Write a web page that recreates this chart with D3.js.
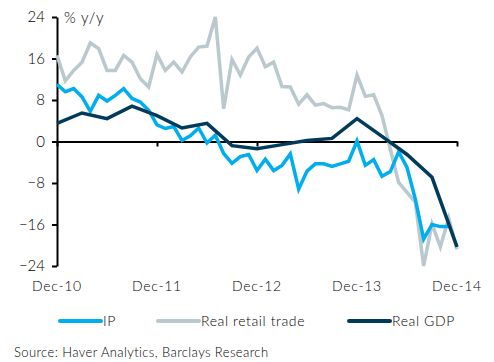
<!DOCTYPE html>
<html>
<head>
<meta charset="utf-8">
<script src="https://cdn.jsdelivr.net/npm/d3@7"></script>
<style>
  body { margin: 0; background: #fff; }
  svg { display: block; font-family: Lato, "Open Sans", sans-serif; font-weight: 300; }
</style>
</head>
<body>
<svg width="494" height="362"></svg>
<script>
// months counted from Dec-10 (0) to Dec-14 (48)
const xTickMonths = [0, 12, 24, 36, 48];
const xTickLabels = ["Dec-10", "Dec-11", "Dec-12", "Dec-13", "Dec-14"];
const yTicks = [24, 16, 8, 0, -8, -16, -24];

// IP, monthly, Dec-10 .. Nov-14
const ip = [11.0, 9.6, 10.2, 8.6, 5.8, 8.9, 7.8, 8.9, 10.2, 8.3, 7.6, 6.0,
  3.2, 2.5, 2.9, 0.2, 1.1, 2.6, -0.3, 1.2, -2.3, -4.2, -2.9, -2.5,
  -5.6, -3.4, -5.6, -4.6, -2.4, -9.2, -5.7, -4.3, -4.3, -4.8, -4.3, -3.8,
  0.1, -4.6, -3.5, -6.7, -5.8, -2.0, -5.0, -11.1, -18.8, -16.0, -16.4, -16.4];

// Real retail trade, monthly, Dec-10 .. Dec-14
const retail = [16.6, 11.7, 13.7, 15.3, 19.0, 17.9, 13.7, 13.7, 16.6, 15.3, 12.1, 10.5,
  16.8, 13.7, 15.3, 13.4, 16.3, 18.2, 18.4, 24.0, 6.3, 15.8, 12.8, 16.3,
  18.0, 14.4, 15.3, 10.6, 10.5, 7.2, 9.0, 7.0, 7.3, 6.5, 6.6, 6.1,
  12.8, 8.7, 9.0, 5.0, -1.5, -7.9, -9.8, -11.7, -24.0, -15.9, -20.3, -14.8, -20.8];

// Real GDP, quarterly
const gdpMonths = [0, 3, 6, 9, 12, 15, 18, 21, 24, 27, 30, 33, 36, 39, 42, 45, 48];
const gdp = [3.5, 5.5, 4.4, 6.8, 5.0, 2.6, 3.5, -0.8, -1.4, -0.6, 0.2, 0.6, 4.4, 1.0, -2.5, -6.9, -20.3];

const seriesNames = ["IP", "Real retail trade", "Real GDP"];
const seriesColors = ["#00aeef", "#b9c9ce", "#003b5c"];

const svg = d3.select("svg");
const x = d3.scaleLinear().domain([0, 48]).range([57, 457]);
const y = d3.scaleLinear().domain([-24, 24]).range([266, 17]);

// y axis
const yAxis = svg.append("g")
  .attr("transform", `translate(${x(0)},0)`)
  .call(d3.axisLeft(y).tickValues(yTicks).tickSize(5).tickSizeOuter(0).tickPadding(7));
yAxis.select(".domain").attr("stroke", "#000").attr("stroke-width", 2);
yAxis.selectAll(".tick line").attr("stroke", "#000").attr("stroke-width", 2);
yAxis.selectAll(".tick text")
  .attr("font-size", 15).attr("fill", "#000")
  .style("font-family", "Lato, sans-serif")
  .style("font-weight", 300);

// x axis at zero
const xAxis = svg.append("g")
  .attr("transform", `translate(0,${y(0)})`)
  .call(d3.axisBottom(x).tickValues(xTickMonths).tickSize(5).tickSizeOuter(0).tickFormat(""));
xAxis.select(".domain").attr("stroke", "#000").attr("stroke-width", 2);
xAxis.selectAll(".tick line").attr("stroke", "#000").attr("stroke-width", 2);

// x labels at the bottom
svg.append("g").selectAll("text")
  .data(xTickMonths)
  .join("text")
  .attr("x", d => x(d))
  .attr("y", 291)
  .attr("text-anchor", "middle")
  .attr("font-size", 14)
  .attr("letter-spacing", 0.7)
  .text((d, i) => xTickLabels[i]);

svg.append("text")
  .attr("x", 64).attr("y", 23)
  .attr("font-size", 15)
  .attr("letter-spacing", 0.8)
  .text("% y/y");

const line = d3.line().x(d => x(d[0])).y(d => y(d[1]));
const data = [
  ip.map((v, i) => [i, v]),
  retail.map((v, i) => [i, v]),
  gdp.map((v, i) => [gdpMonths[i], v])
];

// drawing order: retail at back, IP, GDP on top
[1, 0, 2].forEach(k => {
  svg.append("path")
    .datum(data[k])
    .attr("d", line)
    .attr("fill", "none")
    .attr("stroke", seriesColors[k])
    .attr("stroke-width", 3.5)
    .attr("stroke-linejoin", "miter");
});

// legend
const legendX = [60, 158, 349];
const leg = svg.append("g").selectAll("g")
  .data(seriesNames)
  .join("g")
  .attr("transform", (d, i) => `translate(${legendX[i]},321)`);
leg.append("line")
  .attr("x1", 0).attr("x2", 41)
  .attr("stroke", (d, i) => seriesColors[i])
  .attr("stroke-width", 4)
  .attr("stroke-linecap", "round");
leg.append("text")
  .attr("x", 43).attr("y", 5)
  .attr("font-size", 14)
  .attr("letter-spacing", 0.6)
  .text(d => d);

svg.append("text")
  .attr("x", 14).attr("y", 357)
  .attr("font-size", 13)
  .attr("letter-spacing", 0.4)
  .text("Source: Haver Analytics, Barclays Research");
</script>
</body>
</html>
